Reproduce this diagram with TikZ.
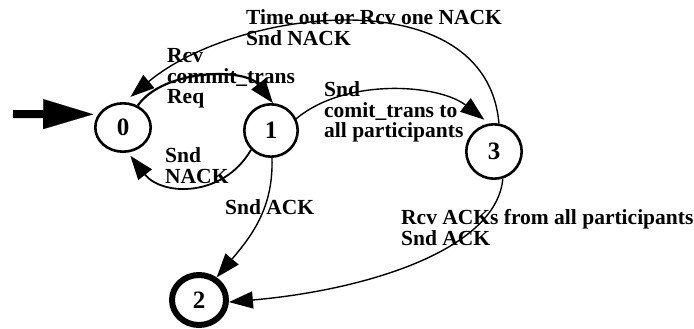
\documentclass[tikz,border=0pt]{standalone}
\usepackage{fontspec}
\setmainfont{Liberation Serif}
\usetikzlibrary{arrows.meta,shapes.geometric}
\begin{document}
\begin{tikzpicture}[x=1pt,y=1pt,
  state/.style={shape=ellipse, draw, line width=2.6pt, inner sep=0pt,
    font=\fontsize{25}{25}\selectfont\bfseries},
  final/.style={state, line width=6pt},
  trans/.style={draw, line width=1.4pt, -{Triangle[length=24pt,width=17pt]}},
  lbl/.style={anchor=base west, align=left, inner sep=0pt,
    font=\fontsize{21.5}{20.5}\selectfont\bfseries},
  entry/.style={draw, line width=8pt, -{Triangle[length=50pt,width=30pt,line width=0.1pt]}}
]
\useasboundingbox (0,0) rectangle (694,329);

% states
\node[state, minimum width=55.4pt, minimum height=48.4pt] (n0) at (123,201.5) {0};
\node[state, minimum width=53.4pt, minimum height=52.4pt] (n1) at (271,198.5) {1};
\node[state, minimum width=55.4pt, minimum height=54.4pt] (n3) at (494,177.5) {3};
\node[final, minimum width=54pt, minimum height=50pt] (n2) at (199,29) {2};

% initial arrow
\coordinate (entry) at (13,215);
\draw[entry, shorten >=5pt] (entry) -- (n0.152);

% transitions
\draw[trans, line width=2.2pt, looseness=0.85] (n0.56) to[out=55,in=128] (n1.86);
\draw[trans, line width=1.8pt, looseness=1.15, shorten >=4pt] (n1.224) to[out=240,in=308] (n0.281);
\draw[trans, shorten >=8pt] (n3.80) to[out=95,in=40] (n0.87);
\draw[trans, looseness=0.85, shorten >=6pt] (n1.25) to[out=40,in=142] (n3.100);
\draw[trans] (n1.272) to[out=272,in=50] (n2.52);
\draw[trans, out looseness=0.6, in looseness=1.2] (n3.288) to[out=265,in=5] (n2.356);

% transition labels (anchored at the baseline of the last line)
\node[lbl] (l30) at (246,283.5) {Time out or Rcv one NACK\\Snd NACK};
\node[lbl] (l01) at (167,225) {Rcv\\commit\_trans\\Req};
\node[lbl] (l10) at (165,145.5) {Snd\\NACK};
\node[lbl] (l13) at (324,191) {Snd\\comit\_trans to\\all participants};
\node[lbl] (l12) at (225,114) {Snd ACK};
\node[lbl] (l32) at (401,83.5) {Rcv ACKs from all participants\\Snd ACK};
\end{tikzpicture}
\end{document}
